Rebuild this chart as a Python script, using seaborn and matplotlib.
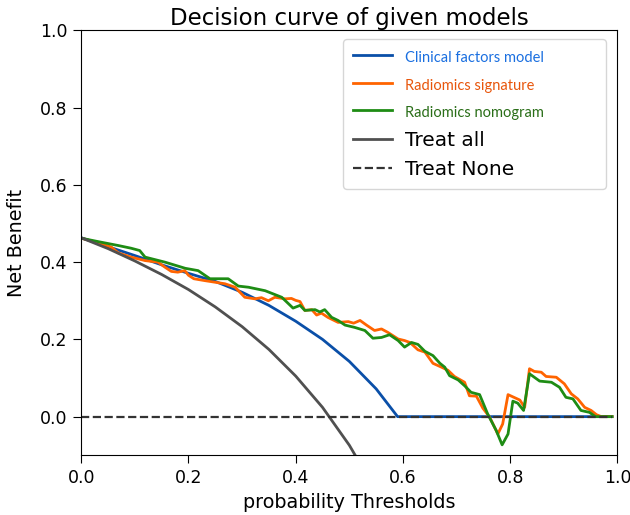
import numpy as np
import pandas as pd
import seaborn as sns
import matplotlib
matplotlib.use("Agg")
import matplotlib.pyplot as plt

# net benefit values
clinical_t = [0.0, 0.05, 0.10, 0.15, 0.20, 0.25, 0.30, 0.35, 0.40, 0.45, 0.50, 0.55, 0.59, 0.99]
clinical_nb = [0.463, 0.440, 0.417, 0.393, 0.371, 0.350, 0.322, 0.288, 0.247, 0.200, 0.143, 0.072, 0.0, 0.0]

signature_t = [0.000, 0.032, 0.056, 0.069, 0.093, 0.119, 0.143, 0.156, 0.168, 0.180, 0.193, 0.200,
               0.210, 0.231, 0.268, 0.287, 0.305, 0.324, 0.336, 0.349, 0.361, 0.380, 0.392, 0.400,
               0.408, 0.417, 0.430, 0.439, 0.448, 0.460, 0.479, 0.498, 0.508, 0.520, 0.532, 0.547,
               0.560, 0.572, 0.591, 0.603, 0.613, 0.628, 0.641, 0.656, 0.672, 0.684, 0.696, 0.715,
               0.724, 0.737, 0.749, 0.762, 0.777, 0.786, 0.796, 0.818, 0.827, 0.836, 0.845, 0.858,
               0.867, 0.886, 0.901, 0.914, 0.926, 0.939, 0.951, 0.961, 0.970, 0.990]
signature_nb = [0.462, 0.450, 0.439, 0.424, 0.413, 0.404, 0.400, 0.387, 0.376, 0.374, 0.378, 0.366,
                0.357, 0.352, 0.344, 0.335, 0.309, 0.305, 0.308, 0.300, 0.309, 0.305, 0.306, 0.301,
                0.298, 0.275, 0.277, 0.263, 0.268, 0.257, 0.244, 0.246, 0.242, 0.249, 0.237, 0.223,
                0.227, 0.218, 0.201, 0.197, 0.192, 0.173, 0.167, 0.138, 0.128, 0.120, 0.104, 0.089,
                0.054, 0.053, 0.022, -0.002, -0.045, -0.019, 0.057, 0.043, 0.024, 0.124, 0.117, 0.115,
                0.104, 0.102, 0.085, 0.059, 0.046, 0.024, 0.016, 0.005, 0.0, 0.0]

nomogram_t = [0.000, 0.032, 0.069, 0.093, 0.109, 0.119, 0.156, 0.194, 0.218, 0.240, 0.274, 0.293,
              0.312, 0.343, 0.374, 0.395, 0.408, 0.417, 0.436, 0.445, 0.454, 0.467, 0.479, 0.492,
              0.510, 0.529, 0.544, 0.560, 0.575, 0.591, 0.603, 0.616, 0.628, 0.641, 0.656, 0.669,
              0.678, 0.687, 0.703, 0.715, 0.727, 0.743, 0.758, 0.774, 0.785, 0.796, 0.805, 0.814,
              0.825, 0.836, 0.855, 0.877, 0.892, 0.904, 0.917, 0.932, 0.948, 0.959, 0.990]
nomogram_nb = [0.462, 0.453, 0.443, 0.436, 0.430, 0.413, 0.400, 0.384, 0.378, 0.357, 0.357, 0.338,
               0.335, 0.326, 0.309, 0.281, 0.288, 0.275, 0.277, 0.271, 0.277, 0.257, 0.249, 0.237,
               0.231, 0.223, 0.203, 0.205, 0.212, 0.197, 0.180, 0.192, 0.187, 0.169, 0.158, 0.138,
               0.128, 0.106, 0.095, 0.080, 0.063, 0.057, 0.007, -0.036, -0.073, -0.045, 0.040, 0.035,
               0.016, 0.111, 0.092, 0.089, 0.076, 0.050, 0.046, 0.016, 0.011, 0.0, 0.0]

treat_all_t = [0.0, 0.05, 0.10, 0.15, 0.20, 0.25, 0.30, 0.35, 0.40, 0.45, 0.50, 0.55]
treat_all_nb = [0.463, 0.435, 0.403, 0.368, 0.329, 0.284, 0.233, 0.174, 0.105, 0.024, -0.074, -0.193]

treat_none_t = [0.0, 0.99]
treat_none_nb = [0.0, 0.0]

fig, ax = plt.subplots(figsize=(6.3, 5.15), dpi=100)
fig.subplots_adjust(left=0.129, right=0.98, top=0.941, bottom=0.116)

sns.lineplot(x=clinical_t, y=clinical_nb, ax=ax, color="#0a4fa8", lw=2, label="Clinical factors model")
sns.lineplot(x=signature_t, y=signature_nb, ax=ax, color="#ff6400", lw=2, label="Radiomics signature")
sns.lineplot(x=nomogram_t, y=nomogram_nb, ax=ax, color="#1e8c14", lw=2, label="Radiomics nomogram")
sns.lineplot(x=treat_all_t, y=treat_all_nb, ax=ax, color="#505050", lw=2, label="Treat all")
sns.lineplot(x=treat_none_t, y=treat_none_nb, ax=ax, color="#333333", lw=1.6, ls="--", label="Treat None")

ax.set_xlim(0, 1)
ax.set_ylim(-0.1, 1.0)
ax.set_xticks([0.0, 0.2, 0.4, 0.6, 0.8, 1.0])
ax.set_yticks([0.0, 0.2, 0.4, 0.6, 0.8, 1.0])
ax.tick_params(labelsize=12.5, length=5.5, pad=4.5)
ax.set_xlabel("probability Thresholds", fontsize=13.8)
ax.set_ylabel("Net Benefit", fontsize=13.8, labelpad=10)
ax.set_title("Decision curve of given models", fontsize=16.5, pad=4)

leg = ax.legend(loc="upper left", bbox_to_anchor=(0.488, 0.55, 0.49, 0.43), mode="expand",
                borderaxespad=0, fontsize=14, handlelength=2.0, handletextpad=0.7,
                labelspacing=0.55, borderpad=0.5)
text_cols = ["#1a6fe0", "#e8560c", "#2a6e18", "black", "black"]
for txt, c, fs in zip(leg.get_texts(), text_cols, [10.5, 10.5, 10.5, 14.5, 14.5]):
    txt.set_color(c)
    txt.set_fontsize(fs)
    if fs < 12:
        txt.set_fontfamily("Lato")

plt.savefig("out.png", dpi=100)
